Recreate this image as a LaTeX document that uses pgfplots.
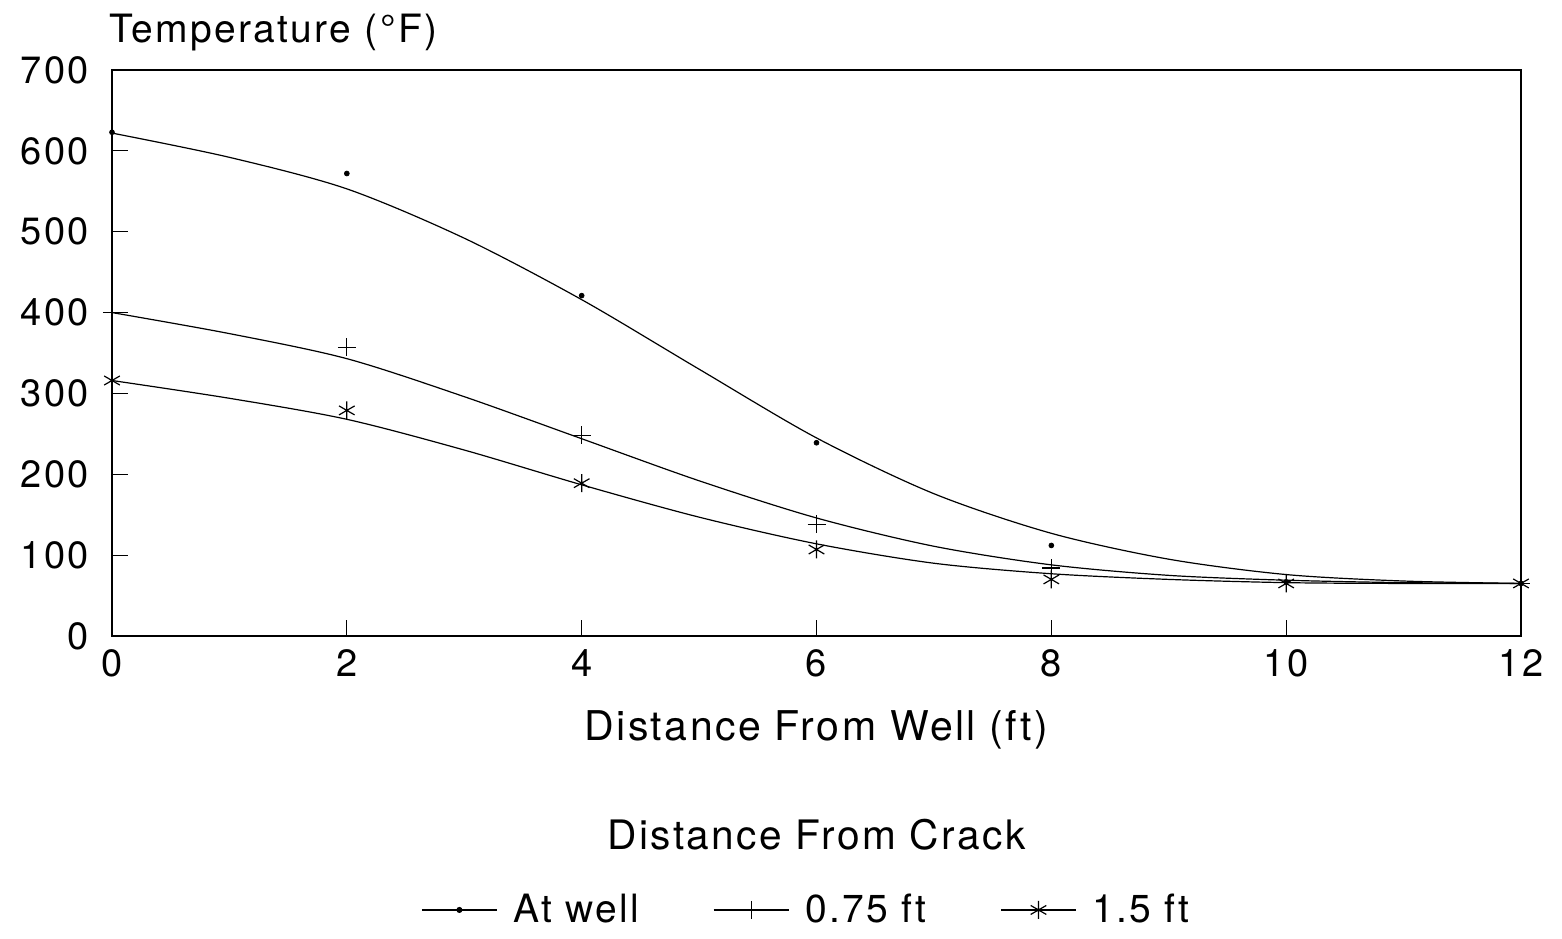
\documentclass[border=0pt]{standalone}
\usepackage{fontspec}
\setmainfont{TeX Gyre Heros}[LetterSpace=6]
\usepackage{pgfplots}
\pgfplotsset{compat=1.18}
\begin{document}
\begin{tikzpicture}
\begin{axis}[name=ax, scale only axis, width=704.5pt, height=283pt,
 xmin=0,xmax=12,ymin=0,ymax=700,
 xtick={0,2,...,12}, ytick={0,100,...,700},
 tick pos=left, tick align=inside, major tick length=8pt,
 axis line style={line width=0.6pt},
 every tick/.style={line width=0.6pt,black},
 /pgf/number format/assume math mode=true,
 tick label style={font=\fontsize{19}{22}\selectfont},
 xticklabel style={yshift=-3pt}, yticklabel style={xshift=-8pt},
 clip=false,
 legend columns=3,
 legend style={at={(0.5,-0.484)}, anchor=center, xshift=-4.5pt, draw=none, fill=none,
   font=\fontsize{19.5}{22}\selectfont,
   /tikz/every even column/.append style={column sep=35pt}},
 legend cell align=left,
 legend image code/.code={\draw[mark repeat=2,mark phase=2,#1] plot coordinates {(0pt,0pt) (18.75pt,0pt) (37.5pt,0pt)}; \path (43.5pt,0pt);},
]
% At well
\addplot[black, line width=0.6pt, smooth, forget plot] coordinates {
(0,622) (1,592) (2,553) (3,492) (4,416) (5,330) (6,245) (7,176) (8,127) (9,95) (10,76) (11,68) (12,65)};
\addplot[black, only marks, mark=*, mark size=1.2pt, forget plot] coordinates {
(0,623) (2,572) (4,421) (6,239) (8,112) (10,67) (12,65)};
% 0.75 ft
\addplot[black, line width=0.6pt, smooth, forget plot] coordinates {
(0,400) (1,374) (2,343) (3,296) (4,244) (5,192) (6,146) (7,111) (8,88) (9,75) (10,69) (11,66) (12,65)};
\addplot[black, only marks, mark=+, mark size=4.5pt, mark options={line width=0.6pt}, forget plot] coordinates {
(0,400) (2,357) (4,248) (6,138) (8,84) (10,66) (12,65)};
% 1.5 ft
\addplot[black, line width=0.6pt, smooth, forget plot] coordinates {
(0,316) (1,294) (2,268) (3,230) (4,187) (5,147) (6,114) (7,90) (8,77) (9,70) (10,66) (11,65) (12,65)};
\addplot[black, only marks, mark=asterisk, mark size=4.5pt, mark options={line width=0.6pt}, forget plot] coordinates {
(0,316) (2,279) (4,189) (6,107) (8,70) (10,65) (12,65)};
\addlegendimage{black, line width=0.6pt, mark=*, mark size=1.2pt}
\addlegendentry{At well}
\addlegendimage{black, line width=0.6pt, mark=+, mark size=4.5pt}
\addlegendentry{0.75 ft}
\addlegendimage{black, line width=0.6pt, mark=asterisk, mark size=4.5pt}
\addlegendentry{1.5 ft}
\end{axis}
\node[font=\fontsize{19.5}{22}\selectfont, anchor=west, xshift=-5pt, yshift=18.5pt] at (ax.north west) {Temperature (°F)};
\node[font=\fontsize{20.5}{23}\selectfont, yshift=-47pt] at (ax.south) {Distance From Well (ft)};
\node[font=\fontsize{20.3}{23}\selectfont, yshift=-99.5pt] at (ax.south) {Distance From Crack};
\pgfresetboundingbox
\path[use as bounding box] (ax.south west) ++(-56pt,-151pt) rectangle ++(781pt,469pt);
\end{tikzpicture}
\end{document}
